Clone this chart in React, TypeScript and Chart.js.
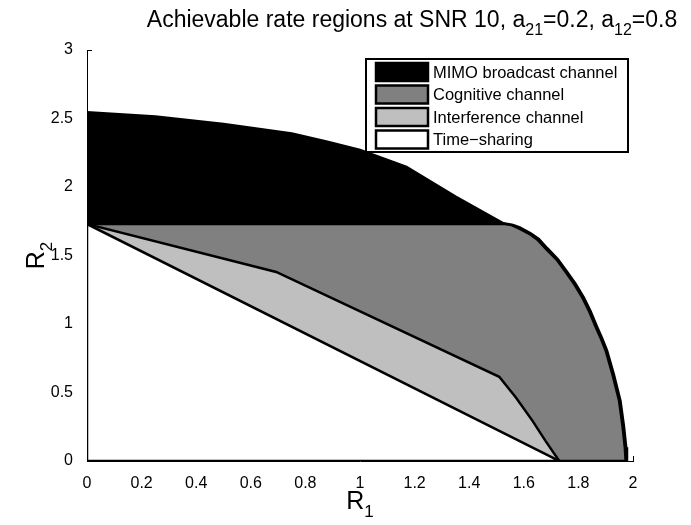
import React, { useEffect, useRef } from "react";
import { Chart, registerables } from "chart.js";

Chart.register(...registerables);

// ---- data ----
const TITLE_PARTS = [
  { text: "Achievable rate regions at SNR 10, a", sub: false },
  { text: "21", sub: true },
  { text: "=0.2, a", sub: false },
  { text: "12", sub: true },
  { text: "=0.8", sub: false },
];
const X_LABEL = "R";
const X_LABEL_SUB = "1";
const Y_LABEL = "R";
const Y_LABEL_SUB = "2";

const X_TICKS = [0, 0.2, 0.4, 0.6, 0.8, 1, 1.2, 1.4, 1.6, 1.8, 2];
const Y_TICKS = [0, 0.5, 1, 1.5, 2, 2.5, 3];

const SERIES_LABELS = [
  "MIMO broadcast channel",
  "Cognitive channel",
  "Interference channel",
  "Time\u2212sharing",
];

const mimoX = [0, 0.25, 0.5, 0.75, 0.88, 1.0, 1.17, 1.35, 1.525, 1.56, 1.585, 1.625, 1.655, 1.686, 1.725, 1.759, 1.79, 1.82, 1.845, 1.869, 1.888, 1.905, 1.93, 1.954, 1.967, 1.975, 1.978];
const mimoY = [2.545, 2.515, 2.46, 2.39, 2.33, 2.27, 2.146, 1.93, 1.735, 1.722, 1.705, 1.662, 1.62, 1.553, 1.473, 1.38, 1.292, 1.192, 1.092, 0.977, 0.89, 0.805, 0.63, 0.44, 0.25, 0.1, 0];

const cogX = [0, 1.53, 1.555, 1.58, 1.62, 1.65, 1.681, 1.72, 1.754, 1.785, 1.815, 1.84, 1.864, 1.883, 1.9, 1.925, 1.949, 1.962, 1.97, 1.973];
const cogY = [1.73, 1.73, 1.722, 1.70, 1.658, 1.615, 1.549, 1.47, 1.377, 1.29, 1.19, 1.09, 0.975, 0.89, 0.805, 0.63, 0.44, 0.25, 0.1, 0];

const intX = [0, 0.693, 1.51, 1.571, 1.632, 1.68, 1.73];
const intY = [1.73, 1.38, 0.615, 0.463, 0.293, 0.145, 0];

const tsX = [0, 1.73];
const tsY = [1.73, 0];

const FILLS = ["#000000", "#808080", "#bfbfbf", "#ffffff"];

const FONT = '"Liberation Sans", Arial, Helvetica, sans-serif';

function polygon(xs: number[], ys: number[]) {
  const pts = [{ x: 0, y: 0 }];
  xs.forEach((x, i) => pts.push({ x, y: ys[i] }));
  pts.push({ x: 0, y: 0 });
  return pts;
}

function drawRich(ctx: CanvasRenderingContext2D, parts: { text: string; sub: boolean }[], x: number, y: number, size: number, subSize: number, subDy: number, align: "left" | "center") {
  ctx.textBaseline = "alphabetic";
  ctx.textAlign = "left";
  let total = 0;
  const widths = parts.map((p) => {
    ctx.font = `${p.sub ? subSize : size}px ${FONT}`;
    const w = ctx.measureText(p.text).width;
    total += w;
    return w;
  });
  let cx = align === "center" ? x - total / 2 : x;
  parts.forEach((p, i) => {
    ctx.font = `${p.sub ? subSize : size}px ${FONT}`;
    ctx.fillText(p.text, cx, p.sub ? y + subDy : y);
    cx += widths[i];
  });
}

const decorPlugin = {
  id: "decor",
  beforeDatasetsDraw(chart: any) {
    const ctx = chart.ctx;
    const { x, y } = chart.scales;
    const a = chart.chartArea;
    ctx.save();
    ctx.strokeStyle = "#000";
    ctx.lineWidth = 1;
    ctx.beginPath();
    Y_TICKS.forEach((v) => {
      const py = Math.round(y.getPixelForValue(v)) + 0.5;
      ctx.moveTo(a.left, py);
      ctx.lineTo(a.left + 5, py);
    });
    X_TICKS.forEach((v) => {
      const px = Math.round(x.getPixelForValue(v)) + 0.5;
      ctx.moveTo(px, a.bottom);
      ctx.lineTo(px, a.bottom - 5);
    });
    ctx.stroke();
    ctx.restore();
  },
  afterDraw(chart: any) {
    const ctx = chart.ctx;
    const a = chart.chartArea;
    ctx.save();
    ctx.fillStyle = "#000";
    // title
    drawRich(ctx, TITLE_PARTS, 412, 27, 23, 16, 8, "center");
    // x label
    drawRich(ctx, [{ text: X_LABEL, sub: false }, { text: X_LABEL_SUB, sub: true }], (a.left + a.right) / 2, 509, 25, 17, 8, "center");
    // y label
    ctx.save();
    ctx.translate(44, (a.top + a.bottom) / 2);
    ctx.rotate(-Math.PI / 2);
    drawRich(ctx, [{ text: Y_LABEL, sub: false }, { text: Y_LABEL_SUB, sub: true }], 0, 0, 25, 17, 8, "center");
    ctx.restore();

    // legend
    const lx = 366, ly = 59, lw = 262, lh = 93;
    ctx.fillStyle = "#fff";
    ctx.fillRect(lx, ly, lw, lh);
    ctx.strokeStyle = "#000";
    ctx.lineWidth = 2;
    ctx.strokeRect(lx, ly, lw, lh);
    const ds = chart.data.datasets;
    ds.forEach((d: any, i: number) => {
      const ry = ly + 4 + i * 22.5;
      ctx.fillStyle = d.backgroundColor;
      ctx.fillRect(376, ry, 52, 18);
      ctx.lineWidth = 2.5;
      ctx.strokeStyle = "#000";
      ctx.strokeRect(376, ry, 52, 18);
      ctx.fillStyle = "#000";
      ctx.font = `16.5px ${FONT}`;
      ctx.textBaseline = "middle";
      ctx.textAlign = "left";
      ctx.fillText(d.label, 433, ry + 10);
    });
    ctx.restore();
  },
};

export default function App() {
  const ref = useRef<HTMLCanvasElement | null>(null);
  useEffect(() => {
    if (!ref.current) return;
    const polys = [polygon(mimoX, mimoY), polygon(cogX, cogY), polygon(intX, intY), polygon(tsX, tsY)];
    const chart = new Chart(ref.current, {
      type: "line",
      data: {
        datasets: polys.map((p, i) => ({
          label: SERIES_LABELS[i],
          data: p,
          backgroundColor: FILLS[i],
          borderColor: "#000",
          borderWidth: 2.5,
          pointRadius: 0,
          tension: 0,
          fill: "shape",
          order: 4 - i,
        })),
      },
      options: {
        responsive: false,
        maintainAspectRatio: false,
        animation: false,
        devicePixelRatio: 1,
        layout: { padding: { top: 50, right: 58, left: 0, bottom: 0 } },
        plugins: { legend: { display: false }, tooltip: { enabled: false }, title: { display: false } },
        scales: {
          x: {
            type: "linear",
            min: 0,
            max: 2,
            afterBuildTicks: (s: any) => { s.ticks = X_TICKS.map((v) => ({ value: v })); },
            ticks: {
              autoSkip: false,
              maxRotation: 0,
              color: "#000",
              padding: 5,
              font: { family: FONT, size: 16 },
              callback: (v: any) => String(+Number(v).toFixed(1)),
            },
            grid: { display: false },
            border: { display: true, color: "#000", width: 1 },
            afterFit: (s: any) => { s.height = 64; },
          },
          y: {
            type: "linear",
            min: 0,
            max: 3,
            afterBuildTicks: (s: any) => { s.ticks = Y_TICKS.map((v) => ({ value: v })); },
            ticks: {
              autoSkip: false,
              color: "#000",
              padding: 6,
              font: { family: FONT, size: 16 },
              callback: (v: any) => String(+Number(v).toFixed(1)),
            },
            grid: { display: false },
            border: { display: true, color: "#000", width: 1 },
            afterFit: (s: any) => { s.width = 87; },
          },
        },
      },
      plugins: [decorPlugin],
    } as any);
    return () => chart.destroy();
  }, []);
  return (
    <div style={{ position: "absolute", left: 0, top: 0, width: 691, height: 525, background: "#fff" }}>
      <canvas ref={ref} width={691} height={525} style={{ display: "block", width: 691, height: 525 }} />
    </div>
  );
}
